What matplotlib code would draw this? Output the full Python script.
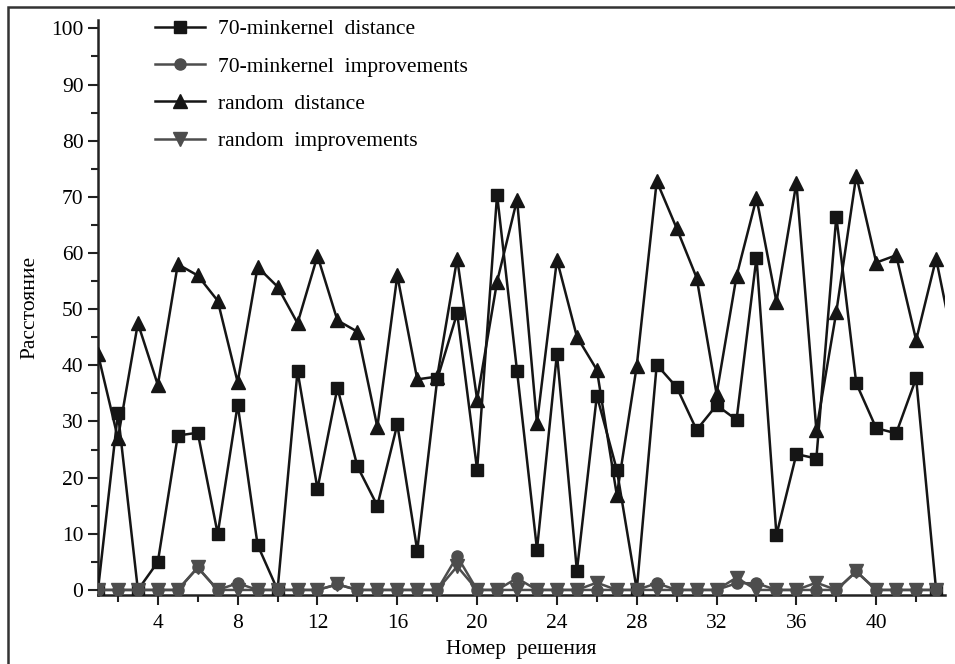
import matplotlib.pyplot as plt
from matplotlib.patches import Rectangle
from matplotlib.ticker import MultipleLocator

plt.rcParams['font.family'] = ['Liberation Serif', 'DejaVu Serif']

solution = list(range(1, 44))

mk_distance = [0, 31.5, 0, 5, 27.5, 28, 10, 33, 8, 0,
               39, 18, 36, 22, 15, 29.5, 7, 37.5, 49.3, 21.4,
               70.4, 39, 7.2, 42.1, 3.4, 34.6, 21.4, 0, 40.1, 36.1,
               28.5, 32.9, 30.3, 59.2, 9.8, 24.2, 23.4, 66.5, 36.8, 28.8,
               27.9, 37.7, 0]
mk_improvements = [0, 0, 0, 0, 0, 4, 0, 1.2, 0, 0,
                   0, 0, 1, 0, 0, 0, 0, 0, 6, 0,
                   0, 2.1, 0, 0, 0, 0, 0, 0, 1.2, 0,
                   0, 0, 1.2, 1.2, 0, 0, 0, 0, 3.3, 0,
                   0, 0, 0]
rnd_solution = list(range(1, 45))
rnd_distance = [42, 27, 47.5, 36.5, 58, 56, 51.5, 37, 57.5, 54,
                47.5, 59.5, 48, 46, 29, 56, 37.5, 38, 59, 33.9,
                54.9, 69.5, 29.7, 58.8, 45.1, 39.2, 16.9, 39.9, 72.8, 64.4,
                55.6, 34.9, 55.9, 69.8, 51.3, 72.5, 28.5, 49.5, 73.8, 58.3,
                59.6, 44.5, 59, 41.5]
rnd_improvements = [0, 0, 0, 0, 0, 4, 0, 0, 0, 0,
                    0, 0, 1, 0, 0, 0, 0, 0, 4.2, 0,
                    0, 0, 0, 0, 0, 1.3, 0, 0, 0, 0,
                    0, 0, 2.2, 0, 0, 0, 1.3, 0, 3.3, 0,
                    0, 0, 0]

black = '#151515'
gray = '#4d4d4d'

fig = plt.figure(figsize=(9.55, 6.64), dpi=100)
ax = fig.add_axes([0.1026, 0.1039, 0.887, 0.866])

ax.plot(solution, mk_distance, color=black, lw=1.8, marker='s', ms=8.5,
        label='70-minkernel  distance', zorder=3)
ax.plot(solution, mk_improvements, color=gray, lw=1.8, marker='o', ms=8,
        label='70-minkernel  improvements', zorder=4)
ax.plot(rnd_solution, rnd_distance, color=black, lw=1.8, marker='^', ms=9.5,
        label='random  distance', zorder=3)
ax.plot(solution, rnd_improvements, color=gray, lw=1.8, marker='v', ms=9.5,
        label='random  improvements', zorder=4)

ax.set_xlim(1, 43.45)
ax.set_ylim(-0.9, 101.5)
ax.xaxis.set_major_locator(MultipleLocator(4))
ax.xaxis.set_minor_locator(MultipleLocator(2))
ax.yaxis.set_major_locator(MultipleLocator(10))
ax.yaxis.set_minor_locator(MultipleLocator(5))
ax.tick_params(which='major', length=7, width=1.5, labelsize=15.5, color='#222')
ax.tick_params(which='minor', length=5, width=1.5, color='#222')
ax.tick_params(axis='x', pad=7)

for s in ['top', 'right']:
    ax.spines[s].set_visible(False)
for s in ['left', 'bottom']:
    ax.spines[s].set_linewidth(1.8)
    ax.spines[s].set_color('#222')

ax.set_xlabel('Номер  решения', fontsize=15.5, labelpad=5)
ax.set_ylabel('Расстояние', fontsize=15.5, labelpad=8)

ax.legend(loc='upper left', bbox_to_anchor=(0.045, 1.035), frameon=False,
          fontsize=15.5, handlelength=2.3, handletextpad=0.6, labelspacing=0.8)

fig.patches.append(Rectangle((0.0085, -0.1), 1.2, 1.0895, transform=fig.transFigure,
                             fill=False, edgecolor='#333', lw=1.8))

fig.savefig('out.png', dpi=100)
